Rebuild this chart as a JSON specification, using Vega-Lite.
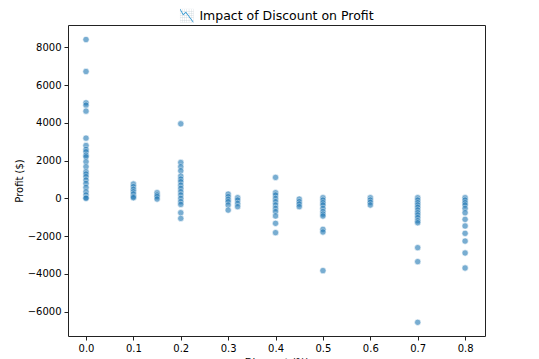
{
  "$schema": "https://vega.github.io/schema/vega-lite/v6.json",
  "width": 417,
  "height": 311,
  "autosize": "none",
  "padding": {"left": 68, "top": 25, "right": 54, "bottom": 23},
  "background": "white",
  "title": {"text": "📉 Impact of Discount on Profit", "font": "DejaVu Sans", "fontSize": 12.5, "fontWeight": "normal", "color": "#000", "offset": 3},
  "config": {
    "view": {"stroke": "#222", "strokeWidth": 1},
    "axis": {"labelFont": "DejaVu Sans", "titleFont": "DejaVu Sans", "labelFontSize": 10, "titleFontSize": 10, "titleFontWeight": "normal", "labelColor": "#000", "titleColor": "#000", "tickColor": "#222", "domain": false, "grid": false, "tickSize": 4, "labelPadding": 3}
  },
  "data": {"values": [
    {"Discount": 0.0, "Profit": 8410}, {"Discount": 0.0, "Profit": 6717}, {"Discount": 0.0, "Profit": 5060}, {"Discount": 0.0, "Profit": 4936}, {"Discount": 0.0, "Profit": 4620}, {"Discount": 0.0, "Profit": 3190}, {"Discount": 0.0, "Profit": 2800}, {"Discount": 0.0, "Profit": 2590}, {"Discount": 0.0, "Profit": 2470}, {"Discount": 0.0, "Profit": 2290}, {"Discount": 0.0, "Profit": 2200}, {"Discount": 0.0, "Profit": 1940}, {"Discount": 0.0, "Profit": 1675}, {"Discount": 0.0, "Profit": 1410}, {"Discount": 0.0, "Profit": 1290}, {"Discount": 0.0, "Profit": 1150}, {"Discount": 0.0, "Profit": 970}, {"Discount": 0.0, "Profit": 790}, {"Discount": 0.0, "Profit": 580}, {"Discount": 0.0, "Profit": 350}, {"Discount": 0.0, "Profit": 180}, {"Discount": 0.0, "Profit": 35}, {"Discount": 0.0, "Profit": 5},
    {"Discount": 0.1, "Profit": 760}, {"Discount": 0.1, "Profit": 620}, {"Discount": 0.1, "Profit": 480}, {"Discount": 0.1, "Profit": 350}, {"Discount": 0.1, "Profit": 230}, {"Discount": 0.1, "Profit": 90}, {"Discount": 0.1, "Profit": 35},
    {"Discount": 0.15, "Profit": 300}, {"Discount": 0.15, "Profit": 180}, {"Discount": 0.15, "Profit": 90}, {"Discount": 0.15, "Profit": -35},
    {"Discount": 0.2, "Profit": 3950}, {"Discount": 0.2, "Profit": 1900}, {"Discount": 0.2, "Profit": 1675}, {"Discount": 0.2, "Profit": 1460}, {"Discount": 0.2, "Profit": 1180}, {"Discount": 0.2, "Profit": 1020}, {"Discount": 0.2, "Profit": 880}, {"Discount": 0.2, "Profit": 700}, {"Discount": 0.2, "Profit": 530}, {"Discount": 0.2, "Profit": 350}, {"Discount": 0.2, "Profit": 180}, {"Discount": 0.2, "Profit": 0}, {"Discount": 0.2, "Profit": -175}, {"Discount": 0.2, "Profit": -320}, {"Discount": 0.2, "Profit": -760}, {"Discount": 0.2, "Profit": -1060},
    {"Discount": 0.3, "Profit": 230}, {"Discount": 0.3, "Profit": 90}, {"Discount": 0.3, "Profit": -50}, {"Discount": 0.3, "Profit": -175}, {"Discount": 0.3, "Profit": -350}, {"Discount": 0.3, "Profit": -620},
    {"Discount": 0.32, "Profit": 35}, {"Discount": 0.32, "Profit": -90}, {"Discount": 0.32, "Profit": -265}, {"Discount": 0.32, "Profit": -440},
    {"Discount": 0.4, "Profit": 1110}, {"Discount": 0.4, "Profit": 300}, {"Discount": 0.4, "Profit": 175}, {"Discount": 0.4, "Profit": 0}, {"Discount": 0.4, "Profit": -175}, {"Discount": 0.4, "Profit": -350}, {"Discount": 0.4, "Profit": -530}, {"Discount": 0.4, "Profit": -700}, {"Discount": 0.4, "Profit": -930}, {"Discount": 0.4, "Profit": -1320}, {"Discount": 0.4, "Profit": -1815},
    {"Discount": 0.45, "Profit": -35}, {"Discount": 0.45, "Profit": -175}, {"Discount": 0.45, "Profit": -300}, {"Discount": 0.45, "Profit": -440},
    {"Discount": 0.5, "Profit": 35}, {"Discount": 0.5, "Profit": -90}, {"Discount": 0.5, "Profit": -230}, {"Discount": 0.5, "Profit": -350}, {"Discount": 0.5, "Profit": -530}, {"Discount": 0.5, "Profit": -700}, {"Discount": 0.5, "Profit": -830}, {"Discount": 0.5, "Profit": -935}, {"Discount": 0.5, "Profit": -1640}, {"Discount": 0.5, "Profit": -1780}, {"Discount": 0.5, "Profit": -3825},
    {"Discount": 0.6, "Profit": 35}, {"Discount": 0.6, "Profit": -90}, {"Discount": 0.6, "Profit": -210}, {"Discount": 0.6, "Profit": -350},
    {"Discount": 0.7, "Profit": 35}, {"Discount": 0.7, "Profit": -90}, {"Discount": 0.7, "Profit": -230}, {"Discount": 0.7, "Profit": -350}, {"Discount": 0.7, "Profit": -475}, {"Discount": 0.7, "Profit": -617}, {"Discount": 0.7, "Profit": -760}, {"Discount": 0.7, "Profit": -880}, {"Discount": 0.7, "Profit": -1020}, {"Discount": 0.7, "Profit": -1180}, {"Discount": 0.7, "Profit": -1290}, {"Discount": 0.7, "Profit": -2610}, {"Discount": 0.7, "Profit": -3350}, {"Discount": 0.7, "Profit": -6560},
    {"Discount": 0.8, "Profit": 35}, {"Discount": 0.8, "Profit": -90}, {"Discount": 0.8, "Profit": -230}, {"Discount": 0.8, "Profit": -350}, {"Discount": 0.8, "Profit": -530}, {"Discount": 0.8, "Profit": -760}, {"Discount": 0.8, "Profit": -1110}, {"Discount": 0.8, "Profit": -1460}, {"Discount": 0.8, "Profit": -1850}, {"Discount": 0.8, "Profit": -2260}, {"Discount": 0.8, "Profit": -2890}, {"Discount": 0.8, "Profit": -3685}
  ]},
  "mark": {"type": "point", "filled": true, "shape": "circle", "size": 40, "color": "#1f77b4", "opacity": 0.6, "stroke": "white", "strokeWidth": 0.6, "strokeOpacity": 1},
  "encoding": {
    "x": {"field": "Discount", "type": "quantitative", "title": "Discount (%)", "scale": {"domain": [-0.038, 0.842], "nice": false, "zero": false}, "axis": {"values": [0, 0.1, 0.2, 0.3, 0.4, 0.5, 0.6, 0.7, 0.8], "format": ".1f", "titlePadding": 4}},
    "y": {"field": "Profit", "type": "quantitative", "title": "Profit ($)", "scale": {"domain": [-7286, 9180], "nice": false, "zero": false}, "axis": {"values": [-6000, -4000, -2000, 0, 2000, 4000, 6000, 8000], "format": "d", "titlePadding": 3}}
  }
}
